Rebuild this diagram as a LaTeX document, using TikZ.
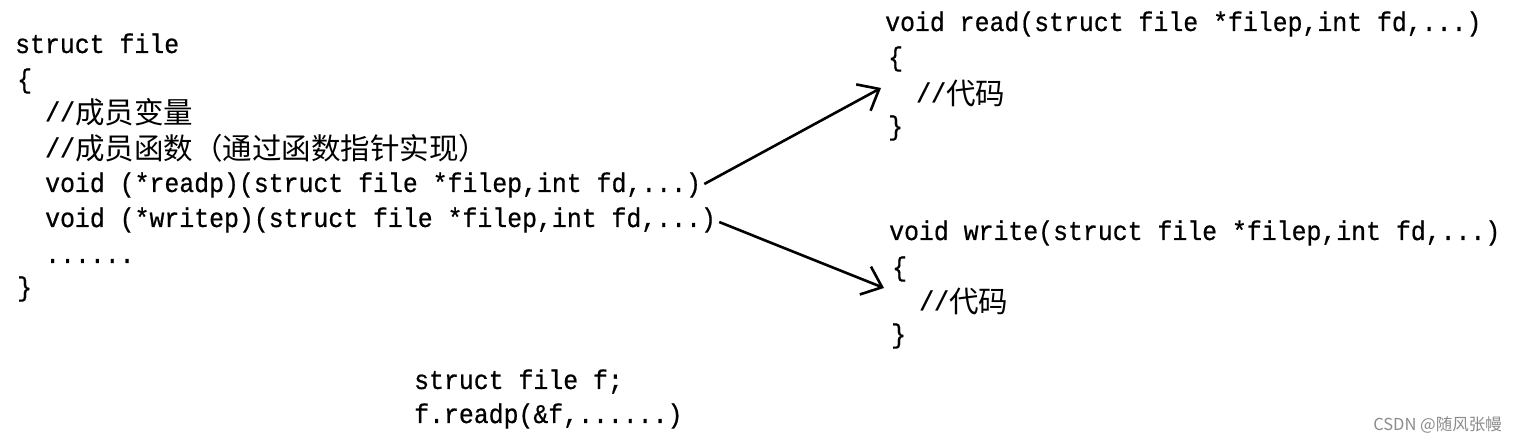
\documentclass[tikz,border=0pt]{standalone}
\usepackage{fontspec}
\setmonofont{Liberation Mono}[FakeStretch=0.92,FakeBold=0.6]
\newfontfamily\cjk{Noto Sans CJK SC}
\usetikzlibrary{arrows.meta}
\newcommand\zh[1]{\raisebox{-2.5pt}{\cjk\fontsize{29.5}{30}\selectfont #1}}
\tikzset{
  code/.style={anchor=base west, inner sep=0pt, font=\fontsize{27}{30}\ttfamily},
  conn/.style={line width=2.6pt, -{Straight Barb[length=18pt,width=30pt,line width=2.6pt]}}
}
\begin{document}
\begin{tikzpicture}[x=1pt,y=-1pt]
\useasboundingbox[fill=white] (0,0) rectangle (1516,443);
% left struct
\node[code] (title) at (15,53) {struct file};
\node[code] (lb) at (17,88) {\{};
\node[code] (c1) at (45,121) {//\zh{成员变量}};
\node[code] (c2) at (45,157) {//\zh{成员函数（通过函数指针实现）}};
\node[code] (rp) at (45,192) {void (*readp)(struct file *filep,int fd,...)};
\node[code] (wp) at (45,227) {void (*writep)(struct file *filep,int fd,...)};
\node[code] (dots) at (45,263) {......};
\node[code] (rb) at (17,296) {\}};
% read function
\node[code] (rd) at (885,31) {void read(struct file *filep,int fd,...)};
\node[code] (rdl) at (888,66) {\{};
\node[code] (rdc) at (916,102) {//\zh{代码}};
\node[code] (rdr) at (888,135) {\}};
% write function
\node[code] (wr) at (889,240) {void write(struct file *filep,int fd,...)};
\node[code] (wrl) at (892,276) {\{};
\node[code] (wrc) at (919,310) {//\zh{代码}};
\node[code] (wrr) at (891,343) {\}};
% usage
\node[code] (u1) at (414,389) {struct file f;};
\node[code] (u2) at (414,423) {f.readp(\&f,......)};
% watermark
\node[anchor=base east, inner sep=0pt, text=black!45, font={\cjk\fontsize{16.5}{18}\selectfont}] (wm) at (1502,431) {CSDN @随风张幔};
% arrows
\coordinate (rtip) at (881,88);
\coordinate (wtip) at (884,288);
\draw[conn] ([xshift=3pt,yshift=1pt]rp.east) -- (rtip);
\draw[conn] ([xshift=3pt,yshift=-2pt]wp.east) -- (wtip);
\end{tikzpicture}
\end{document}
